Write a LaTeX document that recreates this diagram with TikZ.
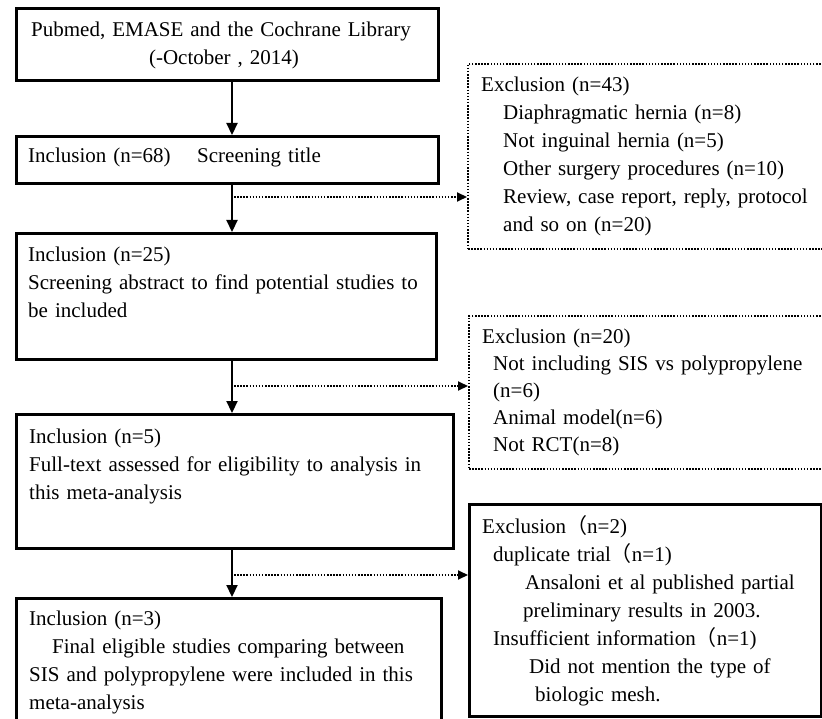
\documentclass[tikz,border=0pt]{standalone}
\usepackage{fontspec}
\setmainfont{Liberation Serif}
\newfontfamily\cjk{Noto Sans CJK SC}
\usetikzlibrary{arrows.meta}
\newcommand{\fp}{{\cjk （}}
\begin{document}
\begin{tikzpicture}[x=1pt,y={(0pt,-1pt)},
  font=\fontsize{21}{28}\selectfont,
  box/.style={draw, line width=2.6pt, anchor=north west, inner sep=0pt},
  dotbox/.style={draw, line width=2pt, dash pattern=on 1.5pt off 1.6pt, anchor=north west, inner sep=0pt},
  txt/.style={anchor=base west, inner sep=0pt, align=left, text width=380pt},
  arr/.style={line width=2.2pt, -{Triangle[length=12pt,width=11pt]}},
  darr/.style={line width=2pt, dash pattern=on 1.5pt off 1.6pt, -{Triangle[length=10pt,width=9pt]}}]
\clip (0,0) rectangle (822,719);
\fill[white] (0,0) rectangle (822,719);
% left boxes
\node[box, minimum width=422pt, minimum height=72pt] (b1) at (15,7) {};
\node[box, minimum width=422pt, minimum height=47pt] (b2) at (15,135) {};
\node[box, minimum width=420pt, minimum height=126pt] (b3) at (15,232) {};
\node[box, minimum width=437pt, minimum height=134pt] (b4) at (15,413) {};
\node[box, minimum width=425pt, minimum height=140pt] (b5) at (15,597) {};
% right boxes
\node[dotbox, minimum width=400pt, minimum height=185pt] (e1) at (467,63) {};
\node[dotbox, minimum width=400pt, minimum height=153pt] (e2) at (468,315) {};
\node[box, minimum width=352pt, minimum height=212pt] (e3) at (468,503) {};
% texts
\node[anchor=base, inner sep=0pt, align=center, text width=422pt] (t1) at (221,37)
  {Pubmed, EMASE and the Cochrane Library\\\hspace*{6pt}(-October , 2014)};
\node[txt] (t2) at (28,163) {\makebox[169pt][l]{Inclusion (n=68)}Screening title};
\node[txt] (t3) at (28,262) {Inclusion (n=25)\\
  \makebox[390pt][s]{Screening abstract to find potential studies to}\\be included};
\node[txt] (t4) at (29,443) {Inclusion (n=5)\\
  \makebox[406pt][s]{Full-text assessed for eligibility to analysis in}\\this meta-analysis};
\node[txt] (t5) at (29,625) {Inclusion (n=3)\\
  \hspace*{23pt}\makebox[372pt][s]{Final eligible studies comparing between}\\
  \makebox[395pt][s]{SIS and polypropylene were included in this}\\meta-analysis};
\node[txt] (t6) at (481,92) {Exclusion (n=43)\\
  \hspace*{22pt}Diaphragmatic hernia (n=8)\\
  \hspace*{22pt}Not inguinal hernia (n=5)\\
  \hspace*{22pt}Other surgery procedures (n=10)\\
  \hspace*{22pt}Review, case report, reply, protocol\\
  \hspace*{22pt}and so on (n=20)};
\node[txt, font=\fontsize{21}{27}\selectfont] (t7) at (482,344) {Exclusion (n=20)\\
  \hspace*{11pt}\makebox[324pt][s]{Not including SIS vs polypropylene}\\
  \hspace*{11pt}(n=6)\\
  \hspace*{11pt}Animal model(n=6)\\
  \hspace*{11pt}Not RCT(n=8)};
\node[txt] (t8) at (482,533) {Exclusion\fp n=2)\\
  \hspace*{11pt}duplicate trial\fp n=1)\\
  \hspace*{43pt}\makebox[283pt][s]{Ansaloni et al published partial}\\
  \hspace*{41pt}preliminary results in 2003.\\
  \hspace*{11pt}Insufficient information\fp n=1)\\
  \hspace*{47pt}\makebox[279pt][s]{Did not mention the type of}\\
  \hspace*{53pt}biologic mesh.};
% connectors
\coordinate (ax) at (232,0);
\draw[arr] (b1.south -| ax) -- (b2.north -| ax);
\draw[arr] (b2.south -| ax) -- (b3.north -| ax);
\draw[arr] (b3.south -| ax) -- (b4.north -| ax);
\draw[arr] (b4.south -| ax) -- (b5.north -| ax);
\coordinate (j1) at (234,197);
\coordinate (j2) at (234,386);
\coordinate (j3) at (234,575);
\draw[darr] (j1) -- (j1 -| e1.west);
\draw[darr] (j2) -- (j2 -| e2.west);
\draw[darr] (j3) -- (j3 -| e3.west);
\end{tikzpicture}
\end{document}
